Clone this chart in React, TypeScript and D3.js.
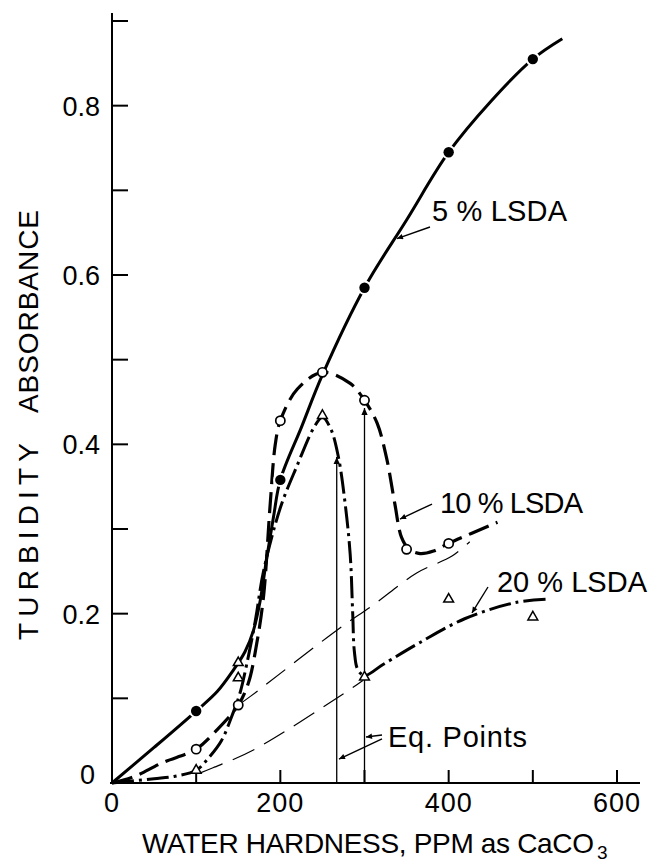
import React from 'react';
import * as d3 from 'd3';

// ---- data ----
const xTicks = [100, 200, 300, 400, 500, 600];
const xTickLabels = [0, 200, 400, 600];
const yTicks = [0.1, 0.2, 0.3, 0.4, 0.5, 0.6, 0.7, 0.8, 0.9];
const yTickLabels = [0, 0.2, 0.4, 0.6, 0.8];

// measured points
const hardness5 = [100, 200, 300, 400, 500];
const abs5 = [0.085, 0.358, 0.585, 0.745, 0.855];
const hardness10 = [100, 150, 200, 250, 300, 350, 400];
const abs10 = [0.04, 0.092, 0.428, 0.485, 0.452, 0.276, 0.283];
const hardness20 = [100, 150, 150, 250, 300, 400, 500];
const abs20 = [0.015, 0.124, 0.142, 0.434, 0.125, 0.217, 0.196];

// hand-drawn curves (knots)
const curve5X = [0, 50, 100, 125, 144, 158, 168, 176, 184, 192, 200, 225, 250, 300, 350, 400, 450, 500, 535];
const curve5Y = [0, 0.042, 0.085, 0.108, 0.133, 0.155, 0.18, 0.215, 0.267, 0.315, 0.358, 0.42, 0.482, 0.585, 0.665, 0.745, 0.805, 0.855, 0.879];
const curve10X = [0, 25, 60, 100, 125, 150, 162, 172, 180, 188, 194, 200, 220, 250, 283, 300, 315, 326, 336, 344, 353, 366, 382, 400, 458];
const curve10Y = [0, 0.007, 0.024, 0.04, 0.063, 0.092, 0.118, 0.165, 0.22, 0.33, 0.4, 0.428, 0.465, 0.485, 0.472, 0.452, 0.425, 0.385, 0.33, 0.29, 0.276, 0.271, 0.274, 0.283, 0.308];
const curve20X = [0, 50, 75, 100, 115, 130, 142, 152, 160, 170, 180, 200, 220, 240, 250, 260, 269, 277, 283, 286, 288, 292, 300, 322, 366, 419, 479, 517];
const curve20Y = [0, 0.005, 0.008, 0.015, 0.03, 0.05, 0.078, 0.106, 0.14, 0.19, 0.25, 0.325, 0.375, 0.42, 0.432, 0.418, 0.385, 0.33, 0.27, 0.2, 0.155, 0.134, 0.127, 0.14, 0.166, 0.194, 0.213, 0.217];
const tangent1X = [150, 164, 268, 310, 362, 404, 425];
const tangent1Y = [0.092, 0.102, 0.181, 0.21, 0.248, 0.268, 0.285];
const tangent2X = [105, 120, 168, 285, 298];
const tangent2Y = [0.012, 0.018, 0.039, 0.112, 0.121];

// equivalence point arrows
const eqX = [267, 300];
const eqTop = [0.385, 0.443];

// labels (data coordinates)
const labelText = ['5 % LSDA', '10 % LSDA', '20 % LSDA', 'Eq. Points'];
const labelX = [380.2, 389.7, 457.4, 327.9];
const labelY = [0.6638, 0.3189, 0.2256, 0.0425];
const labelLen = [135, 143, 150, 139];
const arrowFromX = [377.8, 380.2, 446.7, 320.8, 320.8];
const arrowFromY = [0.6567, 0.3295, 0.2315, 0.0567, 0.052];
const arrowToX = [338.6, 342.2, 427.7, 301.8, 269.7];
const arrowToY = [0.643, 0.3118, 0.2008, 0.0543, 0.0283];

const W = 650;
const H = 868;
const FONT = '"Liberation Sans", Arial, sans-serif';

export default function App() {
  const x = d3.scaleLinear().domain([0, 600]).range([112, 617]);
  const y = d3.scaleLinear().domain([0, 0.9]).range([783, 21]);

  const line = d3
    .line<[number, number]>()
    .x((d) => x(d[0]))
    .y((d) => y(d[1]))
    .curve(d3.curveCatmullRom.alpha(0.5));
  const zip = (a: number[], b: number[]) => a.map((v, i) => [v, b[i]] as [number, number]);

  const tri = d3.symbol().type(d3.symbolTriangle).size(42)();

  return (
    <svg
      width={W}
      height={H}
      viewBox={`0 0 ${W} ${H}`}
      style={{ position: 'absolute', left: 0, top: 0, background: '#fff' }}
    >
      <defs>
        <marker id="ah" viewBox="0 0 10 10" refX="10" refY="5" markerUnits="userSpaceOnUse" markerWidth="10" markerHeight="7" orient="auto">
          <path d="M0,0.5 L10,5 L0,9.5 Z" fill="#000" />
        </marker>
        <marker id="ahs" viewBox="0 0 10 10" refX="10" refY="5" markerUnits="userSpaceOnUse" markerWidth="9" markerHeight="6" orient="auto">
          <path d="M0,0.5 L10,5 L0,9.5 Z" fill="#000" />
        </marker>
      </defs>
      <rect width={W} height={H} fill="#fff" />

      {/* axes */}
      <line x1={x(0)} y1={y(0)} x2={x(0)} y2={13} stroke="#000" strokeWidth={2} />
      <line x1={x(0) - 2} y1={y(0)} x2={640} y2={y(0)} stroke="#000" strokeWidth={2} />
      {yTicks.map((t) => (
        <line key={'yt' + t} x1={x(0)} x2={x(0) + 16} y1={y(t)} y2={y(t)} stroke="#000" strokeWidth={2} />
      ))}
      {xTicks.map((t) => (
        <line key={'xt' + t} x1={x(t)} x2={x(t)} y1={y(0)} y2={y(0) - 13} stroke="#000" strokeWidth={2} />
      ))}
      {yTickLabels.map((t) => (
        <text
          key={'yl' + t}
          x={t === 0 ? 95 : 100}
          y={t === 0 ? y(t) + 1 : y(t) + 10}
          textAnchor="end"
          fontFamily={FONT}
          fontSize={27}
        >
          {t === 0 ? '0' : d3.format('.1f')(t)}
        </text>
      ))}
      {xTickLabels.map((t) => (
        <text key={'xl' + t} x={x(t)} y={812} textAnchor="middle" fontFamily={FONT} fontSize={27} letterSpacing={1}>
          {t}
        </text>
      ))}

      {/* axis titles */}
      <text transform={`translate(38,${541.5}) rotate(-90)`} textAnchor="middle" fontFamily={FONT} fontSize={28} textLength={197} lengthAdjust="spacing">
        TURBIDITY
      </text>
      <text transform={`translate(38,${311.5}) rotate(-90)`} textAnchor="middle" fontFamily={FONT} fontSize={28} textLength={203} lengthAdjust="spacing">
        ABSORBANCE
      </text>
      <text x={142} y={853} fontFamily={FONT} fontSize={28} textLength={452} lengthAdjust="spacing">
        WATER HARDNESS, PPM as CaCO
      </text>
      <text x={597} y={859} fontFamily={FONT} fontSize={19}>
        3
      </text>

      {/* thin dashed tangent lines */}
      <path d={line(zip(tangent1X, tangent1Y)) || ''} fill="none" stroke="#000" strokeWidth={1.2} strokeDasharray="24 11" />
      <path d={line(zip(tangent2X, tangent2Y)) || ''} fill="none" stroke="#000" strokeWidth={1.2} strokeDasharray="24 11" />

      {/* equivalence point verticals */}
      {eqX.map((v, i) => (
        <line key={'eq' + i} x1={x(v)} x2={x(v)} y1={y(0)} y2={y(eqTop[i])} stroke="#000" strokeWidth={1.3} markerEnd="url(#ah)" />
      ))}

      {/* curves */}
      <path d={line(zip(curve20X, curve20Y)) || ''} fill="none" stroke="#000" strokeWidth={3} strokeDasharray="22 5 3 5" />
      <path d={line(zip(curve10X, curve10Y)) || ''} fill="none" stroke="#000" strokeWidth={3.2} strokeDasharray="21 8" />
      <path d={line(zip(curve5X, curve5Y)) || ''} fill="none" stroke="#000" strokeWidth={3} />

      {/* markers */}
      {hardness5.map((v, i) => (
        <circle key={'m5' + i} cx={x(v)} cy={y(abs5[i])} r={5.2} fill="#000" stroke="#fff" strokeWidth={4} paintOrder="stroke" />
      ))}
      {hardness10.map((v, i) => (
        <circle key={'m10' + i} cx={x(v)} cy={y(abs10[i])} r={4.6} fill="#fff" stroke="#000" strokeWidth={1.7} />
      ))}
      {hardness20.map((v, i) => (
        <path key={'m20' + i} d={tri || ''} transform={`translate(${x(v)},${y(abs20[i])})`} fill="#fff" stroke="#000" strokeWidth={1.5} />
      ))}

      {/* labels */}
      {labelText.map((t, i) => (
        <text key={'lb' + i} x={x(labelX[i])} y={y(labelY[i])} fontFamily={FONT} fontSize={i === 3 ? 29 : 29} textLength={labelLen[i]} lengthAdjust="spacing">
          {t}
        </text>
      ))}
      {arrowFromX.map((v, i) => (
        <line
          key={'ar' + i}
          x1={x(v)}
          y1={y(arrowFromY[i])}
          x2={x(arrowToX[i])}
          y2={y(arrowToY[i])}
          stroke="#000"
          strokeWidth={1.4}
          markerEnd="url(#ahs)"
        />
      ))}
    </svg>
  );
}
